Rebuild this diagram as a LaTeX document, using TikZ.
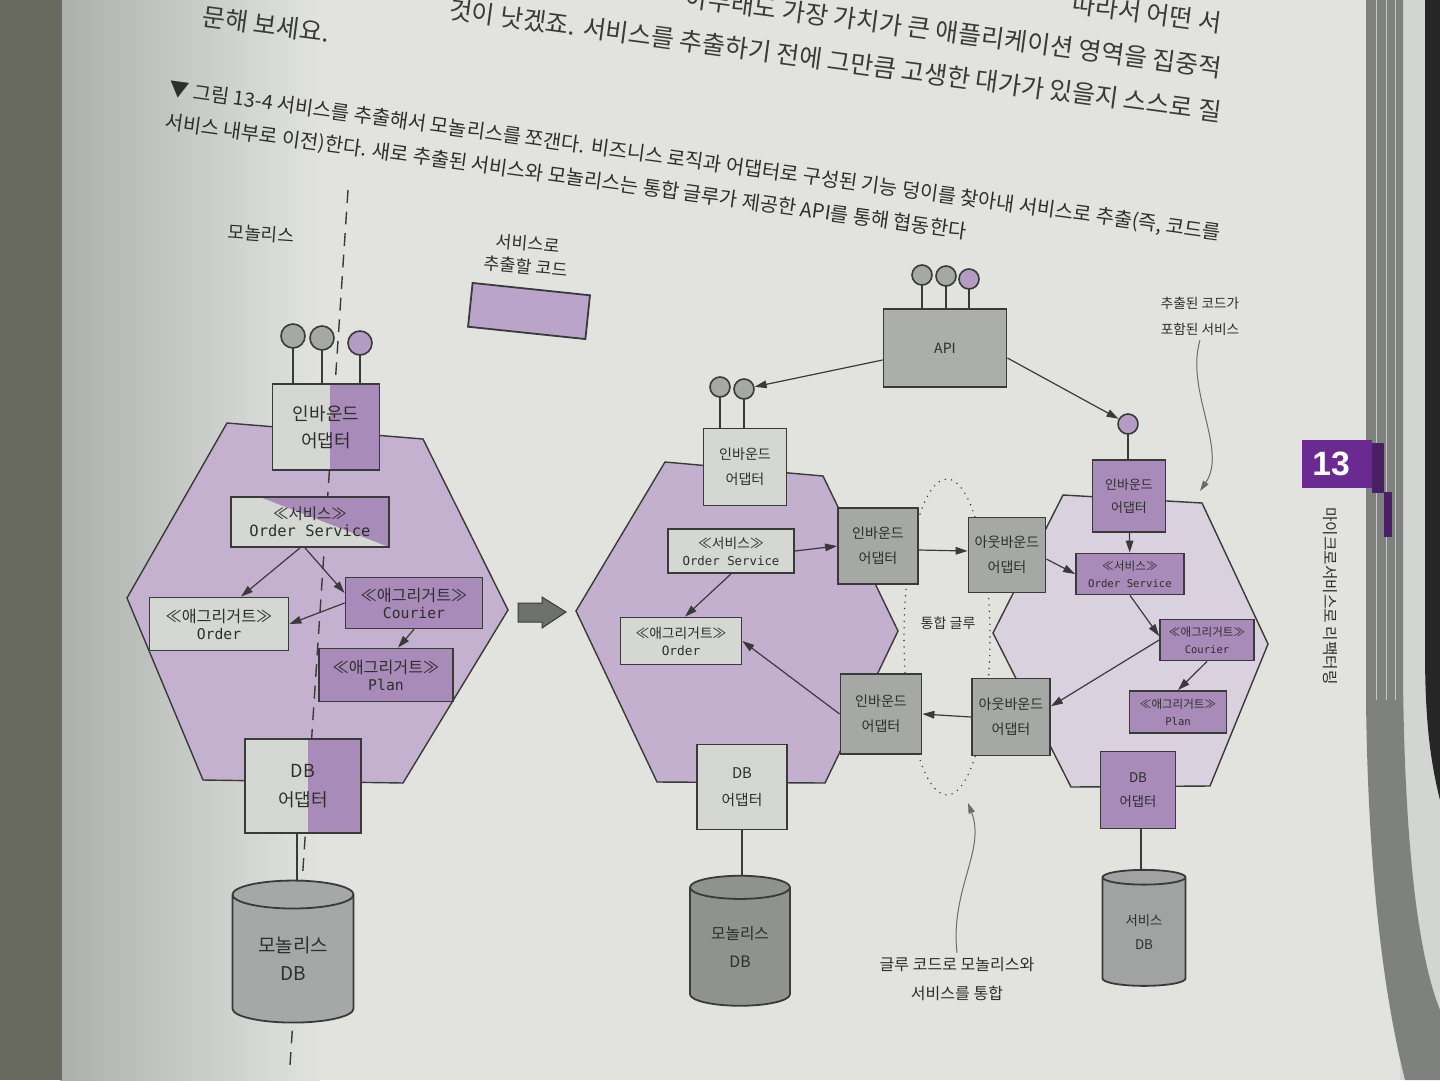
\documentclass[tikz,border=0pt]{standalone}
\usepackage{fontspec}
\setmainfont{Noto Sans CJK KR}
\newfontfamily\codefont{DejaVu Sans Mono}
\newfontfamily\tabfont{Liberation Sans}
\usetikzlibrary{arrows.meta,shapes.geometric}
\definecolor{paper}{HTML}{E2E3DF}
\definecolor{shade}{HTML}{ACB1AE}
\definecolor{desk}{HTML}{68695F}
\definecolor{stack}{HTML}{7E817D}
\definecolor{rim}{HTML}{D3D5D2}
\definecolor{ink}{HTML}{2E2E2E}
\definecolor{bodyink}{HTML}{3A3A3A}
\definecolor{edge}{HTML}{3A3A3A}
\definecolor{notegray}{HTML}{6A6C69}
\definecolor{hexL}{HTML}{C4B1CF}
\definecolor{hexM}{HTML}{C3AFCE}
\definecolor{hexS}{HTML}{D9D1DD}
\definecolor{purp}{HTML}{A88BB8}
\definecolor{legend}{HTML}{BBA4CA}
\definecolor{kpurp}{HTML}{B49BC4}
\definecolor{light}{HTML}{D5D7D3}
\definecolor{kgray}{HTML}{A6A8A5}
\definecolor{apigray}{HTML}{ACAEAB}
\definecolor{cylL}{HTML}{A5A8A6}
\definecolor{cylM}{HTML}{8F928F}
\definecolor{cylS}{HTML}{A0A3A1}
\definecolor{bigarrow}{HTML}{6E706D}
\definecolor{tabpurp}{HTML}{6A2A91}
\definecolor{tabdark}{HTML}{4B1F66}
\begin{document}
\begin{tikzpicture}[x=0.25mm,y=-0.25mm,
    bx/.style={draw=edge,line width=0.45mm,inner sep=0pt,align=center,text=ink},
    sz/.style 2 args={minimum width=#1*0.25mm,minimum height=#2*0.25mm},
    knob/.style={circle,draw=edge,line width=0.4mm,inner sep=0pt,minimum size=#1*0.25mm},
    stem/.style={draw=edge,line width=0.4mm},
    arr/.style={draw=edge,line width=0.3mm,-{Triangle[length=3mm,width=1.9mm]}},
    note/.style={draw=notegray,line width=0.25mm,-{Triangle[length=2.6mm,width=1.6mm]}},
    db/.style={cylinder,shape border rotate=90,aspect=0.4,draw=edge,line width=0.45mm,inner sep=0pt,align=center,text=ink},
    hex/.style={draw=edge,line width=0.35mm},
    big/.style={font=\fontsize{12.8}{19.5}\selectfont},
    mid/.style={font=\fontsize{10}{17.5}\selectfont},
    sml/.style={font=\fontsize{9.2}{16.4}\selectfont},
    bodyline/.style={text=bodyink,anchor=east,rotate=-7.6,font=\fontsize{17.8}{17.8}\selectfont},
    capline/.style={text=ink,anchor=west,rotate=-7.8,font=\fontsize{14.1}{14.1}\selectfont}]
    \useasboundingbox (0,0) rectangle (1440,1080);
    \clip (0,0) rectangle (1440,1080);
    % page, shadow and book edge
    \fill[paper] (0,0) rectangle (1440,1080);
    \fill[left color=shade,right color=paper] (60,0) rectangle (320,1080);
    \fill[desk] (0,0) rectangle (62,1080);
    \fill[rim] (1400,0) rectangle (1440,1080);
    \fill[black!85] (1425,0) -- (1440,0) -- (1440,800) .. controls (1430,760) and (1425,720) .. (1425,650) -- cycle;
    \fill[stack] (1366,0) -- (1403,0) -- (1403,680) .. controls (1405,860) and (1420,960) .. (1440,1010) -- (1440,1080) -- (1405,1080) .. controls (1385,1000) and (1368,880) .. (1366,700) -- cycle;
    \foreach \x in {1376,1386,1395}
        \draw[white!55!stack,line width=0.2mm] (\x,0) -- (\x,700);
    \fill[tabpurp] (1302,440) rectangle (1372,488);
    \fill[tabdark] (1372,443) rectangle (1384,493);
    \fill[tabdark] (1384,492) rectangle (1392,537);
    \node[text=white,font=\tabfont\bfseries\fontsize{24}{24}\selectfont] (tab) at (1331,464) {13};
    \node[rotate=-90,text=ink,font=\fontsize{11.2}{11.2}\selectfont] (chap) at (1330,596) {마이크로서비스로 리팩터링};
    % body text and caption
    \node[bodyline] (b1) at (1226,24) {따라서 어떤 서};
    \node[bodyline] (b2) at (1226,69) {아무래도 가장 가치가 큰 애플리케이션 영역을 집중적};
    \node[bodyline] (b3) at (1226,113) {것이 낫겠죠. 서비스를 추출하기 전에 그만큼 고생한 대가가 있을지 스스로 질};
    \node[bodyline,anchor=west] (b4) at (198,16) {문해 보세요.};
    \node[capline] (c1) at (164,89) {▼ 그림 13-4 서비스를 추출해서 모놀리스를 쪼갠다. 비즈니스 로직과 어댑터로 구성된 기능 덩이를 찾아내 서비스로 추출(즉, 코드를};
    \node[capline] (c2) at (160,122) {서비스 내부로 이전)한다. 새로 추출된 서비스와 모놀리스는 통합 글루가 제공한 API를 통해 협동한다};
    % hexagons
    \draw[hex,fill=hexL] (227,423) -- (423,439) -- (508,610) -- (403,783) -- (203,780) -- (127,598) -- cycle;
    \draw[hex,fill=hexM] (665,462) -- (823,476) -- (898,631) -- (825,783) -- (657,782) -- (576,611) -- cycle;
    \draw[hex,fill=hexS] (1063,495) -- (1202,503) -- (1268,644) -- (1210,786) -- (1071,787) -- (993,633) -- cycle;
    \draw[edge,line width=0.35mm,dash pattern=on 3.2mm off 2.2mm] (348,190) -- (290,1065);
    \node[ellipse,draw=edge,line width=0.4mm,line cap=round,dash pattern=on 0mm off 1.6mm,sz={86}{316}] (glue) at (947,637) {};
    % left: monolith before
    \node[big,rotate=-4,text=ink] (mono) at (261,234) {모놀리스};
    \node[big,rotate=-5,text=ink,align=center,font=\fontsize{12.3}{16.4}\selectfont] (keytxt) at (527,255) {서비스로\\추출할 코드};
    \node[bx,sz={118}{44},fill=legend,rotate=-6] (key) at (529,311) {};
    \node[bx,big,sz={107}{86},fill=light,path picture={\fill[purp] ([xshift=1mm]path picture bounding box.north) rectangle (path picture bounding box.south east);}] (lib) at (326,427) {인바운드\\어댑터};
    \foreach \n/\x/\y/\c in {l1/293/336/kgray,l2/322/338/kgray,l3/360/343/kpurp} {
        \draw[stem] (\x,\y) -- (\x,\y |- lib.north);
        \node[knob=24,fill=\c] (\n) at (\x,\y) {};
    }
    \node[bx,sz={158}{50},fill=light,path picture={\fill[purp] ([xshift=7.2mm]path picture bounding box.north west) -- (path picture bounding box.north east) -- (path picture bounding box.south east) -- cycle;}] (los) at (310,522) {\fontsize{11}{17.8}\selectfont ≪서비스≫\\\codefont\fontsize{11}{17.8}\selectfont Order Service};
    \foreach \n/\x/\y/\w/\h/\c/\t in {lord/219/624/139/53/light/Order,lcou/414/603/137/51/purp/Courier,lplan/386/675/134/53/purp/Plan}
        \node[bx,sz={\w}{\h},fill=\c] (\n) at (\x,\y) {\fontsize{11.5}{19}\selectfont ≪애그리거트≫\\\codefont\fontsize{10.5}{19}\selectfont \t};
    \node[bx,big,sz={116}{94},fill=light,font=\fontsize{12.8}{20.5}\selectfont,path picture={\fill[purp] ([xshift=1.25mm]path picture bounding box.north) rectangle (path picture bounding box.south east);}] (ldb) at (303,786) {DB\\어댑터};
    \node[db,fill=cylL,sz={121}{142},font=\fontsize{13.5}{20}\selectfont] (ldbs) at (293,959) {모놀리스\\DB};
    \draw[arr] ([xshift=-2.5mm]los.south) -- ([xshift=5.5mm]lord.north);
    \draw[arr] ([xshift=-1.25mm]los.south) -- ([yshift=2.5mm]lcou.west);
    \draw[arr] (lcou.west) -- (lord.east);
    \draw[arr] (lcou.south) -- ([xshift=3mm]lplan.north);
    \draw[stem] ([xshift=-1.5mm]ldb.south) -- ([xshift=-1.5mm]ldb.south |- ldbs.north);
    \fill[bigarrow,draw=edge,line width=0.25mm] (518,603) -- (542,603) -- (542,597) -- (566,612) -- (542,628) -- (542,622) -- (518,622) -- cycle;
    % right: monolith after
    \node[bx,mid,sz={123}{78},fill=apigray] (api) at (945,348) {API};
    \foreach \n/\x/\y/\c in {a1/922/275/kgray,a2/946/276/kgray,a3/969/279/kpurp} {
        \draw[stem] (\x,\y) -- (\x,\y |- api.north);
        \node[knob=20,fill=\c] (\n) at (\x,\y) {};
    }
    \node[bx,mid,sz={83}{77},fill=light] (mib) at (745,467) {인바운드\\어댑터};
    \foreach \n/\x/\y in {m1/720/387,m2/744/389} {
        \draw[stem] (\x,\y) -- (\x,\y |- mib.north);
        \node[knob=20,fill=kgray] (\n) at (\x,\y) {};
    }
    \node[bx,sz={126}{44},fill=light] (mos) at (731,551) {\fontsize{9.8}{15.6}\selectfont ≪서비스≫\\\codefont\fontsize{8.8}{15.6}\selectfont Order Service};
    \node[bx,sz={121}{47},fill=light] (mord) at (681,641) {\fontsize{9.8}{16.3}\selectfont ≪애그리거트≫\\\codefont\fontsize{9.1}{16.3}\selectfont Order};
    \foreach \n/\x/\y/\w/\h/\a in {mib2/878/546/80/76/인바운드,mib3/881/714/81/80/인바운드,mob1/1007/555/77/75/아웃바운드,mob2/1011/717/78/77/아웃바운드}
        \node[bx,mid,sz={\w}{\h},fill=kgray] (\n) at (\x,\y) {\a\\어댑터};
    \node[mid,text=ink] (gluetxt) at (948,623) {통합 글루};
    \node[bx,mid,sz={90}{85},fill=light,font=\fontsize{10.5}{19}\selectfont] (mdb) at (742,787) {DB\\어댑터};
    \node[db,fill=cylM,sz={100}{130},font=\fontsize{11.2}{19.9}\selectfont] (mdbs) at (740,947) {모놀리스\\DB};
    \draw[arr] ([yshift=-3mm]api.west) -- (m2);
    \draw[arr] (mos.east) -- (mib2.west);
    \draw[arr] (mos.south) -- ([xshift=1mm]mord.north);
    \draw[arr] (mib3.west) -- (mord.east);
    \draw[arr] ([yshift=-1mm]mib2.east) -- ([yshift=1mm]mob1.west);
    \draw[arr] (mob2.west) -- (mib3.east);
    \draw[stem] (mdb.south) -- (mdb.south |- mdbs.north);
    % right: extracted service
    \node[bx,sml,sz={73}{72},fill=purp] (sib) at (1129,496) {인바운드\\어댑터};
    \draw[stem] (1128,424) -- (1128,424 |- sib.north);
    \node[knob=20,fill=kpurp] (s1) at (1128,424) {};
    \node[bx,sz={108}{41},fill=purp] (sos) at (1130,574) {\fontsize{8.3}{15}\selectfont ≪서비스≫\\\codefont\fontsize{7.6}{15}\selectfont Order Service};
    \foreach \n/\x/\y/\w/\h/\t in {scou/1207/640/94/41/Courier,splan/1178/712/97/42/Plan}
        \node[bx,sz={\w}{\h},fill=purp] (\n) at (\x,\y) {\fontsize{8.2}{14.5}\selectfont ≪애그리거트≫\\\codefont\fontsize{7.5}{14.5}\selectfont \t};
    \node[bx,sz={75}{77},fill=purp,font=\fontsize{9.5}{17}\selectfont] (sdb) at (1138,790) {DB\\어댑터};
    \node[db,fill=cylS,sz={83}{116},font=\fontsize{9.5}{17}\selectfont] (sdbs) at (1144,932) {서비스\\DB};
    \draw[arr] ([yshift=-2.5mm]api.east) -- (s1);
    \draw[arr] (sib) -- (sos);
    \draw[arr] ([yshift=-1mm]mob1.east) -- (sos.west);
    \draw[arr] (sos.south) -- ([yshift=1mm]scou.west);
    \draw[arr] (scou.west) -- (mob2.15);
    \draw[arr] (scou.south) -- (splan.north);
    \draw[stem] ([xshift=0.8mm]sdb.south) -- ([xshift=0.8mm]sdb.south |- sdbs.north);
    % notes
    \node[align=center,text=ink,font=\fontsize{9.7}{18.5}\selectfont] (snote) at (1200,316) {추출된 코드가\\포함된 서비스};
    \coordinate (stip) at (1200,491);
    \draw[note] (snote.south) .. controls (1185,390) and (1228,450) .. (stip);
    \node[align=center,text=ink,font=\fontsize{11.4}{20}\selectfont] (gnote) at (957,979) {글루 코드로 모놀리스와\\서비스를 통합};
    \coordinate (gtip) at (968,803);
    \draw[note] (gnote.north) .. controls (950,890) and (986,850) .. (gtip);
\end{tikzpicture}
\end{document}
